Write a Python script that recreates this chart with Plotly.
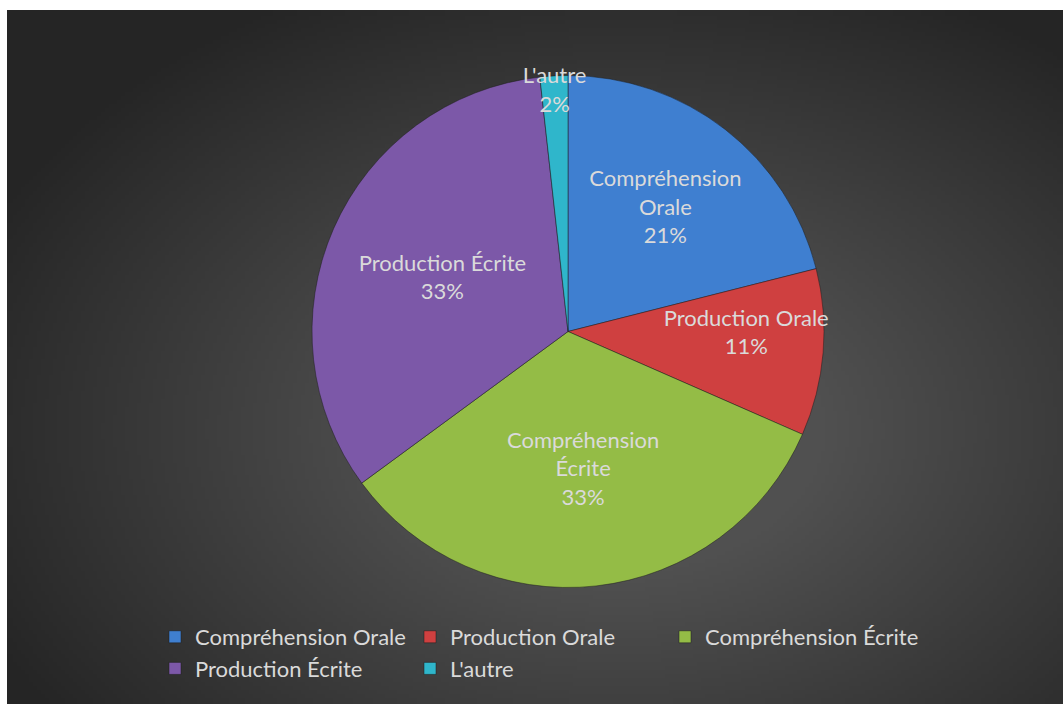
import base64
import struct
import zlib

import plotly.graph_objects as go

# ---------------- data ----------------
categories = ["Compréhension Orale", "Production Orale", "Compréhension Écrite",
              "Production Écrite", "L'autre"]
slice_labels = ["Compréhension<br>Orale", "Production Orale", "Compréhension<br>Écrite",
                "Production Écrite", "L'autre"]
values = [12, 6, 19, 19, 1]
colors = ["#3f7fd0", "#cf4040", "#94bc46", "#7c58a8", "#2fb6cb"]

# ---------------- geometry helpers ----------------
W, H = 1063, 704
ML, MR, MT, MB = 170, 93, 10, 104
PW, PH = W - ML - MR, H - MT - MB


def px_x(px):
    return (px - ML) / PW


def px_y(py):
    return (H - MB - py) / PH


# ---------------- background gradient image ----------------
def gradient_png(w, h, x0, y0, x1, y1):
    cx, cy, a, b = 620, 430, 600, 420
    rows = []
    for j in range(h):
        py = y0 + (y1 - y0) * (j + 0.5) / h
        row = bytearray([0])
        for i in range(w):
            px = x0 + (x1 - x0) * (i + 0.5) / w
            r = (((px - cx) / a) ** 2 + ((py - cy) / b) ** 2) ** 0.5
            v = int(max(37, min(80, 98 - 52 * r)))
            row += bytes([v, v, v])
        rows.append(bytes(row))
    raw = b"".join(rows)

    def chunk(t, d):
        c = struct.pack(">I", len(d)) + t + d
        return c + struct.pack(">I", zlib.crc32(t + d) & 0xFFFFFFFF)

    png = b"\x89PNG\r\n\x1a\n"
    png += chunk(b"IHDR", struct.pack(">IIBBBBB", w, h, 8, 2, 0, 0, 0))
    png += chunk(b"IDAT", zlib.compress(raw, 9))
    png += chunk(b"IEND", b"")
    return "data:image/png;base64," + base64.b64encode(png).decode()


BX0, BY0, BX1, BY1 = 7, 10, W, H
bg_src = gradient_png(264, 174, BX0, BY0, BX1, BY1)

fig = go.Figure()
fig.add_trace(go.Pie(
    labels=categories,
    values=values,
    text=slice_labels,
    texttemplate="%{text}<br>%{percent:.0%}",
    textposition="inside",
    insidetextorientation="horizontal",
    insidetextfont=dict(family="Lato", size=22, color="#dadada"),
    sort=False,
    direction="clockwise",
    rotation=0,
    marker=dict(colors=colors, line=dict(color="rgba(30,30,30,0.5)", width=1)),
    domain=dict(x=[px_x(312), px_x(824)], y=[px_y(588), px_y(75)]),
    hoverinfo="skip",
))

fig.update_layout(
    width=W, height=H,
    margin=dict(l=ML, r=MR, t=MT, b=MB, pad=0),
    paper_bgcolor="white",
    plot_bgcolor="rgba(0,0,0,0)",
    uniformtext=dict(minsize=22, mode="show"),
    showlegend=True,
    legend=dict(
        orientation="h",
        x=px_x(155), xanchor="left",
        y=px_y(616), yanchor="top",
        entrywidth=210, entrywidthmode="pixels",
        font=dict(family="Lato", size=22, color="#dadada"),
        bgcolor="rgba(0,0,0,0)",
        traceorder="normal",
    ),
    images=[dict(
        source=bg_src,
        xref="paper", yref="paper",
        x=px_x(BX0), y=px_y(BY0),
        sizex=px_x(BX1) - px_x(BX0), sizey=px_y(BY0) - px_y(BY1),
        xanchor="left", yanchor="top",
        sizing="stretch", layer="below",
    )],
)

fig.write_html("out.html")
